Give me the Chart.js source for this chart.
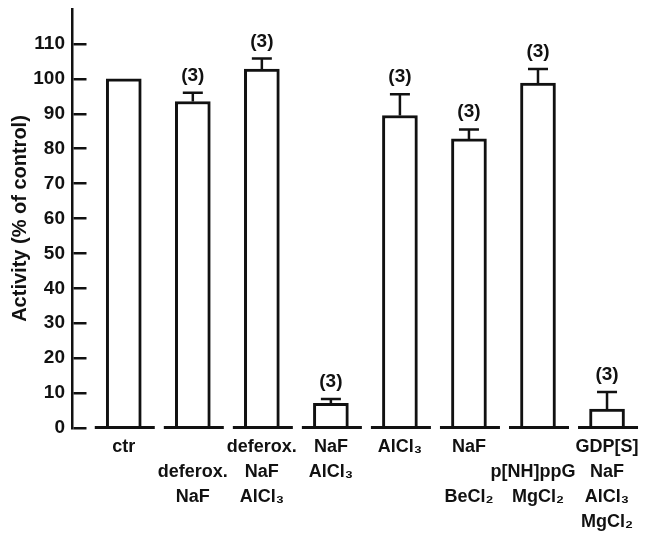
<!DOCTYPE html>
<html>
<head>
<meta charset="utf-8">
<script src="https://cdn.jsdelivr.net/npm/chart.js@4/dist/chart.umd.min.js"></script>
<style>
  html, body { margin: 0; padding: 0; background: #fff; }
  #wrap { width: 647px; height: 535px; }
</style>
</head>
<body>
<div id="wrap"><canvas id="c" width="647" height="535"></canvas></div>
<script>
// ---- data ----
const categories = ['ctr', 'deferox. NaF', 'deferox. NaF AlCl₃', 'NaF AlCl₃', 'AlCl₃', 'NaF BeCl₂', 'p[NH]ppG MgCl₂', 'GDP[S] NaF AlCl₃ MgCl₂'];
const tickLabels = [
  ['ctr'],
  ['', 'deferox.', 'NaF'],
  ['deferox.', 'NaF', 'AlCl₃'],
  ['NaF', 'AlCl₃'],
  ['AlCl₃'],
  ['NaF', '', 'BeCl₂'],
  ['', 'p[NH]ppG  ', 'MgCl₂'],
  ['GDP[S]', 'NaF', 'AlCl₃', 'MgCl₂']
];
const activity = [100, 93.5, 102.8, 7.1, 89.5, 82.8, 98.8, 5.4];
const errorTop = [null, 96, 105.8, 8.3, 95.6, 85.5, 102.8, 10.3];
const nLabels = [null, '(3)', '(3)', '(3)', '(3)', '(3)', '(3)', '(3)'];
const yTicks = [0, 10, 20, 30, 40, 50, 60, 70, 80, 90, 100, 110];

const FONT = "'Liberation Sans', Arial, 'DejaVu Sans', sans-serif";
const INK = '#111';

const annotPlugin = {
  id: 'annot',
  afterDatasetsDraw(chart) {
    const { ctx, scales: { x, y } } = chart;
    ctx.save();
    ctx.strokeStyle = INK;
    ctx.fillStyle = INK;
    // broken baseline segments
    ctx.lineWidth = 3;
    const y0 = y.getPixelForValue(0);
    categories.forEach((c, i) => {
      const cx = x.getPixelForValue(i);
      ctx.beginPath();
      ctx.moveTo(cx - 29, y0 - 0.5);
      ctx.lineTo(cx + 31, y0 - 0.5);
      ctx.stroke();
    });
    // error bars and n labels
    ctx.lineWidth = 2.5;
    ctx.font = 'bold 19px ' + FONT;
    ctx.textAlign = 'center';
    ctx.textBaseline = 'alphabetic';
    activity.forEach((v, i) => {
      const cx = x.getPixelForValue(i);
      const top = y.getPixelForValue(v);
      let capY = top;
      if (errorTop[i] != null) {
        capY = y.getPixelForValue(errorTop[i]);
        ctx.beginPath();
        ctx.moveTo(cx, top);
        ctx.lineTo(cx, capY);
        ctx.moveTo(cx - 10, capY);
        ctx.lineTo(cx + 10, capY);
        ctx.stroke();
      }
      if (nLabels[i]) {
        ctx.fillText(nLabels[i], cx, capY - 12);
      }
    });
    ctx.restore();
  }
};

new Chart(document.getElementById('c'), {
  type: 'bar',
  data: {
    datasets: [{
      data: activity.map((v, i) => ({ x: i, y: v })),
      backgroundColor: '#fff',
      borderColor: INK,
      borderWidth: 3,
      borderSkipped: 'start',
      barThickness: 35
    }]
  },
  options: {
    responsive: false,
    animation: false,
    events: [],
    layout: { padding: { top: 9, right: 2, left: 0, bottom: 0 } },
    plugins: { legend: { display: false }, tooltip: { enabled: false } },
    scales: {
      x: {
        type: 'linear',
        offset: false,
        min: -0.75,
        max: 7.55,
        grid: { display: false, drawTicks: false },
        border: { display: false },
        afterBuildTicks: (s) => { s.ticks = categories.map((_, i) => ({ value: i })); },
        afterFit: (s) => { s.height = 107; s.paddingLeft = 0; s.paddingRight = 0; },
        ticks: {
          autoSkip: false,
          maxRotation: 0,
          minRotation: 0,
          padding: 7,
          color: INK,
          font: { family: FONT, size: 18, weight: 'bold', lineHeight: 1.38 },
          callback: (v) => tickLabels[v] || ''
        }
      },
      y: {
        min: 0,
        max: 120,
        afterBuildTicks: (s) => { s.ticks = yTicks.concat([120]).map(v => ({ value: v })); },
        afterFit: (s) => { s.width = 72; s.paddingTop = 0; s.paddingBottom = 0; },
        grid: {
          drawTicks: false,
          lineWidth: 2.5,
          color: (c) => (c.tick && c.tick.value === 120) ? 'rgba(0,0,0,0)' : INK
        },
        border: { display: true, color: INK, width: 2.5, dash: [13, 4000] },
        ticks: {
          padding: 7,
          color: INK,
          font: { family: FONT, size: 19, weight: 'bold' },
          callback: (v) => (yTicks.includes(v) ? String(v) : '')
        },
        title: {
          display: true,
          text: 'Activity (% of control)',
          color: INK,
          font: { family: FONT, size: 20, weight: 'bold' },
          padding: { top: 8, bottom: 0 }
        }
      }
    }
  },
  plugins: [annotPlugin]
});
</script>
</body>
</html>
